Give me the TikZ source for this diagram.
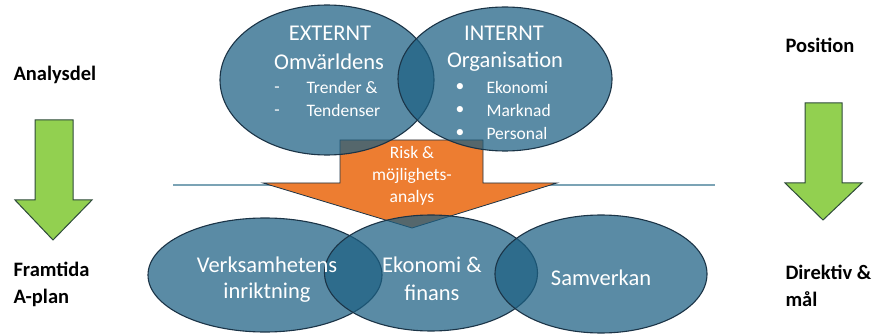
\documentclass[tikz,border=0pt]{standalone}
\usepackage{fontspec}
\setmainfont{Carlito}
\usetikzlibrary{shapes.geometric}
\definecolor{blobcol}{HTML}{1D6083}
\definecolor{ringcol}{HTML}{1B3447}
\definecolor{riskorange}{HTML}{ED7D31}
\definecolor{arrowgreen}{HTML}{92D050}
\definecolor{arrowedge}{HTML}{2E4A3A}
\definecolor{linecol}{HTML}{7BA3B5}
\begin{document}
\begin{tikzpicture}[x=1pt,y=-1pt,
                blob/.style={shape=ellipse,draw=ringcol,line width=1.1pt,fill=blobcol,fill opacity=0.73,inner sep=0pt},
                intext/.style={text=white,font=\fontsize{22.5}{24}\selectfont},
                smalltext/.style={text=white,font=\fontsize{17.5}{19}\selectfont},
                sidetext/.style={font=\bfseries\fontsize{20.5}{27}\selectfont,anchor=west,align=left},
                greenarrow/.style={fill=arrowgreen,draw=arrowedge,line width=1pt}]
                \useasboundingbox (0,0) rectangle (884,334);

                \coordinate (lineL) at (173,185);
                \coordinate (lineR) at (715,185);
                \draw[linecol,line width=1.4pt] (lineL) -- (lineR);

                \draw[fill=riskorange,draw=ringcol,line width=0.8pt] (340,140) -- (483,140) -- (483,183) -- (557,183)
                        -- (412,228) -- (263,183) -- (340,183) -- cycle;

                \node[blob,minimum width=214,minimum height=150] (ext) at (327,80) {};
                \node[blob,minimum width=214,minimum height=144] (int) at (505,79) {};
                \node[blob,minimum width=234,minimum height=114] (verk) at (265,275) {};
                \node[blob,minimum width=213,minimum height=116] (ekon) at (431,273) {};
                \node[blob,minimum width=212,minimum height=118] (samv) at (601,274) {};

                \node[intext] (extA) at (330,33) {EXTERNT};
                \node[intext] (extB) at (329,62) {Omvärldens};
                \node[smalltext] (extD1) at (277,90) {-};
                \node[smalltext] (extD2) at (277,113) {-};
                \node[smalltext,anchor=west] (extC) at (303,87) {Trender \&};
                \node[smalltext,anchor=west] (extE) at (303,110) {Tendenser};

                \node[intext] (intA) at (504,33) {INTERNT};
                \node[intext] (intB) at (505,62) {Organisation};
                \node[smalltext] (intD1) at (460,87) {\textbullet};
                \node[smalltext] (intD2) at (460,110) {\textbullet};
                \node[smalltext] (intD3) at (460,133) {\textbullet};
                \node[smalltext,anchor=west] (intC) at (483,87) {Ekonomi};
                \node[smalltext,anchor=west] (intE) at (483,110) {Marknad};
                \node[smalltext,anchor=west] (intF) at (483,133) {Personal};

                \node[smalltext] (riskA) at (412,152) {Risk \&};
                \node[smalltext] (riskB) at (412,176) {möjlighets-};
                \node[smalltext] (riskC) at (412,198) {analys};

                \node[intext] (verkA) at (267,265) {Verksamhetens};
                \node[intext] (verkB) at (267,293) {inriktning};
                \node[intext] (ekonA) at (432,265) {Ekonomi \&};
                \node[intext] (ekonB) at (432,293) {finans};
                \node[intext] (samvA) at (601,278) {Samverkan};

                \draw[greenarrow] (35,120) -- (73,120) -- (73,200) -- (92,200) -- (53,240) -- (15,200) -- (35,200) -- cycle;
                \draw[greenarrow] (805,103) -- (842,103) -- (842,183) -- (862,183) -- (823,220) -- (785,183) -- (805,183) -- cycle;

                \node[sidetext] (analys) at (10,75) {Analysdel};
                \node[sidetext] (framtid) at (10,284) {Framtida\\A-plan};
                \node[sidetext] (posit) at (782,45) {Position};
                \node[sidetext] (direkt) at (782,286) {Direktiv \&\\mål};
            \end{tikzpicture}
\end{document}
